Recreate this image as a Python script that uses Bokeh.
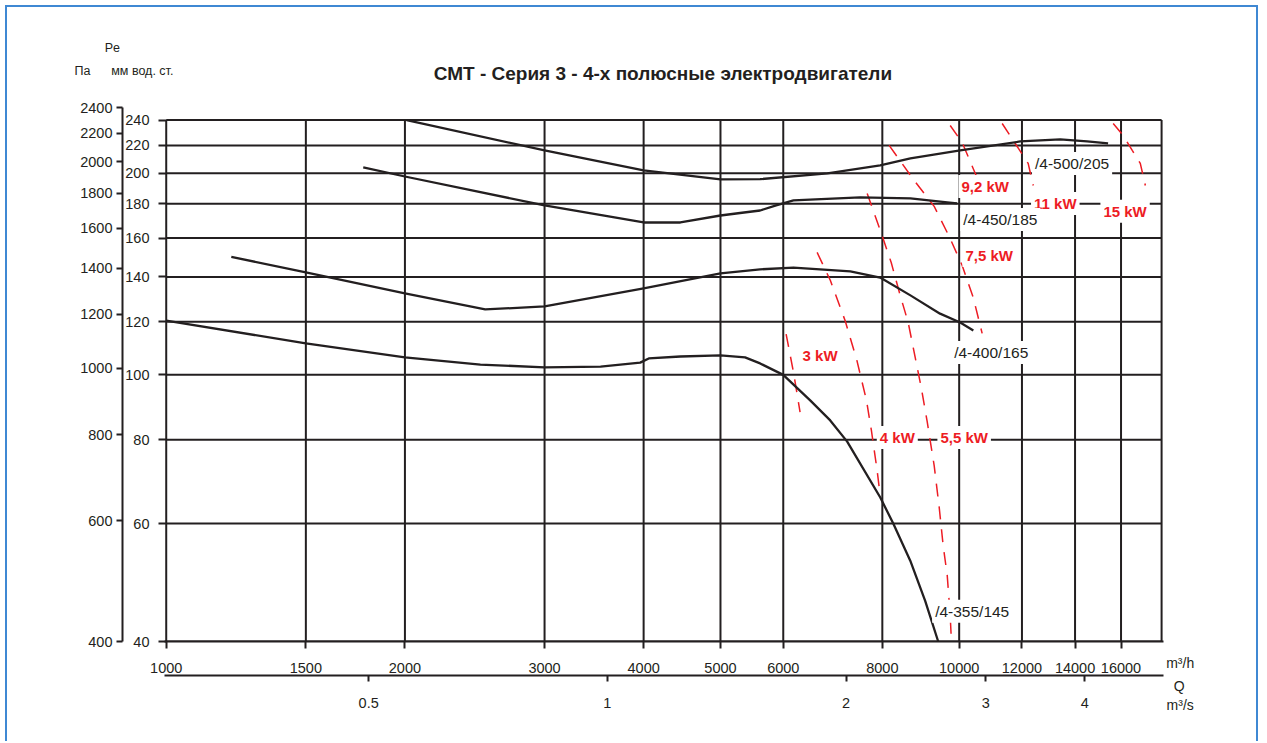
from bokeh.plotting import figure
from bokeh.models import (Range1d, LogAxis, LogScale, FixedTicker,
                          NumeralTickFormatter, Label)
from bokeh.embed import file_html
from bokeh.resources import INLINE

# ---------------- data ----------------
x_ticks = [1000, 1500, 2000, 3000, 4000, 5000, 6000, 8000, 10000, 12000, 14000, 16000]
x_edge = 18000
q_ms_ticks = [0.5, 1, 2, 3, 4]
mm_ticks = [40, 60, 80, 100, 120, 140, 160, 180, 200, 220, 240]
pa_ticks = [400, 600, 800, 1000, 1200, 1400, 1600, 1800, 2000, 2200, 2400]

# fan curves: Q in m3/h, Pe in mm w.c.
fan355_q = [1000, 1500, 2000, 2490, 3000, 3530, 3960, 4060, 4450, 5000, 5370, 5610, 6000, 6488, 6877, 7224, 7953, 8258, 8676, 9060, 9409]
fan355_p = [120.5, 111.4, 106.2, 103.6, 102.6, 102.9, 104.3, 105.8, 106.5, 106.9, 106.2, 104.0, 100.0, 91.6, 85.5, 79.5, 65.6, 60.0, 52.8, 46.0, 40.0]
fan400_q = [1208, 1500, 2000, 2525, 3000, 4000, 5000, 5610, 6180, 7290, 7950, 8680, 9460, 10030, 10420]
fan400_p = [150.0, 142.2, 132.3, 125.2, 126.5, 134.6, 141.7, 143.7, 144.6, 142.7, 139.7, 131.4, 123.4, 119.7, 116.5]
fan450_q = [1772, 2000, 3000, 4000, 4450, 5000, 5293, 5610, 5877, 6180, 7500, 8680, 9660, 9940]
fan450_p = [204.0, 197.7, 179.0, 168.8, 168.8, 172.9, 174.4, 175.9, 179.0, 182.1, 184.0, 183.4, 180.9, 180.2]
fan500_q = [2010, 3000, 4000, 5000, 5610, 6820, 7950, 8680, 10030, 11940, 13410, 14500, 15410]
fan500_p = [240.0, 216.2, 201.9, 195.7, 195.9, 199.8, 205.4, 210.4, 216.2, 223.0, 224.6, 223.0, 221.5]

# motor power lines
kw3_q = [6050, 6180, 6300]
kw3_p = [115.0, 101.0, 88.0]
kw4_q = [6620, 6880, 7180, 7430, 7640, 7750, 7880, 7950]
kw4_p = [152.3, 138.3, 120.5, 105.1, 91.6, 82.6, 72.0, 66.1]
kw55_q = [7656, 7953, 8209, 8426, 8624, 8801, 8956, 9112, 9300, 9437, 9546, 9659, 9743, 9770]
kw55_p = [186.5, 164.3, 147.1, 131.4, 119.7, 106.2, 95.8, 85.2, 73.2, 63.4, 55.6, 50.2, 43.7, 40.8]
kw75_q = [8160, 8775, 9300, 9714, 10088, 10416, 10690]
kw75_p = [220.0, 195.0, 178.4, 160.9, 145.6, 130.5, 115.3]
kw92_q = [9743, 10088, 10505]
kw92_p = [235.6, 222.2, 198.4]
kw11_q = [11330, 12218, 12400]
kw11_p = [237.2, 206.8, 191.7]
kw15_q = [15640, 16100, 16530, 16920, 17170]
kw15_p = [237.2, 227.7, 216.2, 206.8, 191.7]

power_labels = ["9,2 kW", "11 kW", "15 kW", "7,5 kW", "3 kW", "4 kW", "5,5 kW"]
power_label_q = [10784, 13220, 16190, 10910, 6677, 8355, 10146]
power_label_p = [191.0, 180.2, 175.4, 150.7, 106.9, 80.6, 80.6]

fan_labels = ["/4-500/205", "/4-450/185", "/4-400/165", "/4-355/145"]
fan_label_q = [13880, 11270, 10975, 10385]
fan_label_p = [206.8, 170.6, 108.0, 44.4]

title_text = "СМТ  -  Серия 3  -  4-х полюсные электродвигатели"

# ---------------- style ----------------
FONT = "Liberation Sans"
BLACK = "#231f20"
RED = "#ed1c24"
TICK_FS = "14.5px"

p = figure(width=1253, height=736, x_axis_type="log", y_axis_type="log",
           x_range=Range1d(995, 18100), y_range=Range1d(40, 250.6),
           output_backend="svg", toolbar_location=None,
           min_border_left=157, min_border_right=97, min_border_top=100, min_border_bottom=102,
           outline_line_color=None,
           styles={"margin": "5px 5px 0px 5px", "border": "2px solid #3f88d3",
                   "border-bottom": "none"})
p.xgrid.visible = False
p.ygrid.visible = False

p.extra_y_ranges = {"pa": Range1d(400, 2400)}
p.extra_y_scales = {"pa": LogScale()}
p.extra_x_ranges = {"ms": Range1d(995 / 3600, 18100 / 3600)}
p.extra_x_scales = {"ms": LogScale()}

pa_axis = LogAxis(y_range_name="pa")
p.add_layout(pa_axis, "left")
ms_axis = LogAxis(x_range_name="ms")
p.add_layout(ms_axis, "below")

mm_axis = p.yaxis[0]
q_axis = p.xaxis[0]

mm_axis.ticker = FixedTicker(ticks=mm_ticks)
pa_axis.ticker = FixedTicker(ticks=pa_ticks)
q_axis.ticker = FixedTicker(ticks=x_ticks)
ms_axis.ticker = FixedTicker(ticks=q_ms_ticks)
for ax in (mm_axis, pa_axis, q_axis):
    ax.formatter = NumeralTickFormatter(format="0")
ms_axis.formatter = NumeralTickFormatter(format="0.[0]")

for ax in (mm_axis, pa_axis, q_axis, ms_axis):
    ax.major_label_text_font = FONT
    ax.major_label_text_font_size = TICK_FS
    ax.major_label_text_color = BLACK
    ax.minor_tick_line_color = None
    ax.major_tick_in = 0
    ax.major_tick_out = 6
    ax.major_tick_line_width = 2
    ax.major_tick_line_color = BLACK
    ax.axis_line_width = 2
    ax.axis_line_color = BLACK
    ax.major_label_standoff = 6
mm_axis.axis_line_color = None
mm_axis.major_tick_in = 2
mm_axis.major_label_standoff = 9
pa_axis.major_label_standoff = 4
q_axis.major_tick_out = 7
q_axis.major_label_standoff = 14
ms_axis.major_label_standoff = 16

# grid drawn from tick values
vx = x_ticks + [x_edge]
p.segment(x0=vx, y0=[min(mm_ticks)] * len(vx), x1=vx, y1=[max(mm_ticks)] * len(vx),
          line_color=BLACK, line_width=2)
p.segment(x0=[min(x_ticks)] * len(mm_ticks), y0=mm_ticks, x1=[x_edge] * len(mm_ticks), y1=mm_ticks,
          line_color=BLACK, line_width=2)

# power lines
for q, v in [(kw3_q, kw3_p), (kw4_q, kw4_p), (kw55_q, kw55_p), (kw75_q, kw75_p),
             (kw92_q, kw92_p), (kw11_q, kw11_p), (kw15_q, kw15_p)]:
    p.line(q, v, line_color=RED, line_width=1.5, line_dash="13 10")

# fan curves
for q, v in [(fan355_q, fan355_p), (fan400_q, fan400_p), (fan450_q, fan450_p), (fan500_q, fan500_p)]:
    p.line(q, v, line_color=BLACK, line_width=2.3, line_join="round")

for t, qx, py in zip(power_labels, power_label_q, power_label_p):
    p.add_layout(Label(x=qx, y=py, text=t, text_align="center", text_baseline="middle",
                       text_font=FONT, text_font_style="bold", text_font_size="15px",
                       text_color=RED, background_fill_color="white", padding=3))
for t, qx, py in zip(fan_labels, fan_label_q, fan_label_p):
    p.add_layout(Label(x=qx, y=py, text=t, text_align="center", text_baseline="middle",
                       text_font=FONT, text_font_size="15.5px",
                       text_color=BLACK, background_fill_color="white", padding=3))

# title and header texts, placed through the plot's own scales in the top panel
p.add_layout(Label(x=4362, y=281.7, text=title_text, text_align="center", text_baseline="middle",
                   text_font=FONT, text_font_style="bold", text_font_size="19px",
                   text_color=BLACK), "above")
for t, qx, py in [("Pe", 855, 307), ("Па", 784, 283.7), ("мм вод. ст.", 933, 283.7)]:
    p.add_layout(Label(x=qx, y=py, text=t, text_align="center", text_baseline="middle",
                       text_font=FONT, text_font_size="12.5px", text_color=BLACK), "above")
# unit texts at the right end of the Q axes
for t, qx, py in [("m³/h", 19000, 37.1), ("Q", 18950, 34.27), ("m³/s", 19000, 32.2)]:
    p.add_layout(Label(x=qx, y=py, text=t, text_align="center", text_baseline="middle",
                       text_font=FONT, text_font_size="14px", text_color=BLACK), "right")

open("out.html", "w").write(file_html(p, INLINE))
